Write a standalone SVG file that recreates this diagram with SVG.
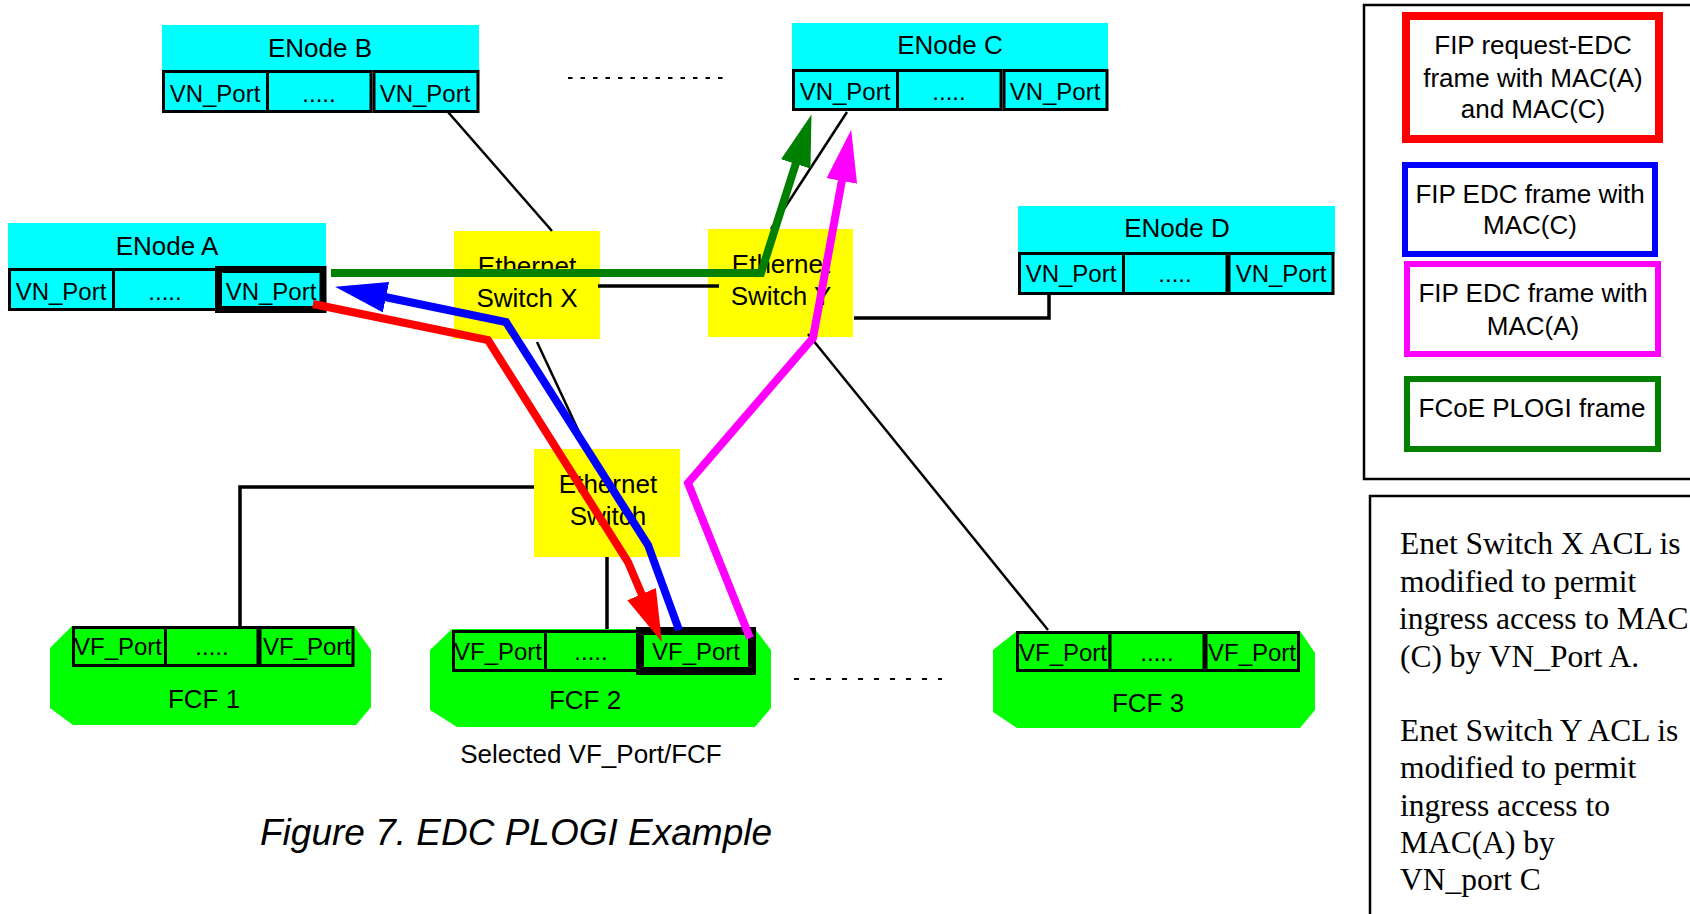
<svg xmlns="http://www.w3.org/2000/svg" width="1690" height="914" viewBox="0 0 1690 914">
  <style>
    .hdr { fill: #00ffff; }
    .cell { fill: #00ffff; stroke: #000; stroke-width: 3; }
    .sel { stroke-width: 7; }
    .fcf { fill: #00ff00; }
    .fcell { fill: #00ff00; stroke: #000; stroke-width: 3; }
    .fsel { stroke-width: 8; }
    .sw { fill: #ffff00; }
    .t { font-family: "Liberation Sans", Arial, sans-serif; font-size: 24px; fill: #000; text-anchor: middle; }
    .big { font-size: 26px; }
    .wire { fill: none; stroke: #000; stroke-width: 3.5; }
    .thin { stroke-width: 2.5; }
    .dash { fill: none; stroke: #000; stroke-width: 2; }
    .frame { fill: none; stroke-width: 8; stroke-linejoin: miter; stroke-linecap: butt; }
    .key { fill: #fff; }
    .note { font-family: "Liberation Serif", "Times New Roman", serif; font-size: 31.5px; fill: #000; }
  </style>
  <defs>
    <marker id="ah-green" markerUnits="userSpaceOnUse" viewBox="0 0 52 31" markerWidth="52" markerHeight="31" refX="1" refY="15.5" orient="auto">
      <path d="M0,0 L52,15.5 L0,31 z" fill="#008000"/>
    </marker>
    <marker id="ah-blue" markerUnits="userSpaceOnUse" viewBox="0 0 52 31" markerWidth="52" markerHeight="31" refX="1" refY="15.5" orient="auto">
      <path d="M0,0 L52,15.5 L0,31 z" fill="#0000ff"/>
    </marker>
    <marker id="ah-red" markerUnits="userSpaceOnUse" viewBox="0 0 52 31" markerWidth="52" markerHeight="31" refX="1" refY="15.5" orient="auto">
      <path d="M0,0 L52,15.5 L0,31 z" fill="#ff0000"/>
    </marker>
    <marker id="ah-magenta" markerUnits="userSpaceOnUse" viewBox="0 0 52 31" markerWidth="52" markerHeight="31" refX="1" refY="15.5" orient="auto">
      <path d="M0,0 L52,15.5 L0,31 z" fill="#ff00ff"/>
    </marker>
  </defs>

  <rect x="0" y="0" width="1690" height="914" fill="#fff"/>

  <!-- ENode B -->
  <g id="enode-b">
    <rect class="hdr" x="162" y="25" width="317" height="47"/>
    <rect class="cell" x="163.5" y="71.5" width="104" height="40"/>
    <rect class="cell" x="267.5" y="71.5" width="103.5" height="40"/>
    <rect class="cell" x="374" y="71.5" width="104" height="40"/>
    <text class="t big" x="320" y="57">ENode B</text>
    <text class="t" x="215" y="102">VN_Port</text>
    <text class="t" x="319" y="102">.....</text>
    <text class="t" x="425" y="102">VN_Port</text>
  </g>

  <!-- ENode C -->
  <g id="enode-c">
    <rect class="hdr" x="792" y="23" width="316" height="48"/>
    <rect class="cell" x="793.5" y="70.5" width="104" height="39"/>
    <rect class="cell" x="897.5" y="70.5" width="103.5" height="39"/>
    <rect class="cell" x="1004" y="70.5" width="103" height="39"/>
    <text class="t big" x="950" y="54">ENode C</text>
    <text class="t" x="845" y="100">VN_Port</text>
    <text class="t" x="949" y="100">.....</text>
    <text class="t" x="1055" y="100">VN_Port</text>
  </g>

  <!-- ENode A, with its selected VN_Port -->
  <g id="enode-a">
    <rect class="hdr" x="8" y="223" width="318" height="47"/>
    <rect class="cell" x="9.5" y="269.5" width="104" height="40"/>
    <rect class="cell" x="113.5" y="269.5" width="103" height="40"/>
    <rect class="cell sel" x="218.5" y="269.5" width="104.5" height="40"/>
    <text class="t big" x="167" y="255">ENode A</text>
    <text class="t" x="61" y="300">VN_Port</text>
    <text class="t" x="165" y="300">.....</text>
    <text class="t" x="271" y="300">VN_Port</text>
  </g>

  <!-- ENode D -->
  <g id="enode-d">
    <rect class="hdr" x="1018" y="206" width="317" height="48"/>
    <rect class="cell" x="1019.5" y="253.5" width="104" height="40"/>
    <rect class="cell" x="1123.5" y="253.5" width="103.5" height="40"/>
    <rect class="cell" x="1229" y="253.5" width="104" height="40"/>
    <text class="t big" x="1177" y="237">ENode D</text>
    <text class="t" x="1071" y="282">VN_Port</text>
    <text class="t" x="1175" y="282">.....</text>
    <text class="t" x="1281" y="282">VN_Port</text>
  </g>

  <!-- Ethernet switches -->
  <g id="switch-x">
    <rect class="sw" x="454" y="231" width="146" height="108"/>
    <text class="t big" x="527" y="275">Ethernet</text>
    <text class="t big" x="527" y="307">Switch X</text>
  </g>
  <g id="switch-y">
    <rect class="sw" x="708" y="229" width="145" height="108"/>
    <text class="t big" x="781" y="273">Ethernet</text>
    <text class="t big" x="781" y="305">Switch Y</text>
  </g>
  <g id="switch-mid">
    <rect class="sw" x="534" y="449" width="146" height="108"/>
    <text class="t big" x="608" y="493">Ethernet</text>
    <text class="t big" x="608" y="525">Switch</text>
  </g>

  <!-- FCFs -->
  <g id="fcf-1">
    <polygon class="fcf" points="72,626 354,626 371,650 371,707 356,725 73,725 50,708 50,648"/>
    <rect class="fcell" x="73.5" y="627.5" width="92" height="38"/>
    <rect class="fcell" x="165.5" y="627.5" width="92.5" height="38"/>
    <rect class="fcell" x="260" y="627.5" width="93" height="38"/>
    <text class="t" x="118" y="655">VF_Port</text>
    <text class="t" x="212" y="655">.....</text>
    <text class="t" x="307" y="655">VF_Port</text>
    <text class="t big" x="204" y="708">FCF 1</text>
  </g>
  <g id="fcf-2">
    <polygon class="fcf" points="452,629 755,629 771,650 771,708 755,727 457,727 430,710 430,650"/>
    <rect class="fcell" x="453.5" y="631.5" width="92" height="39"/>
    <rect class="fcell" x="545.5" y="631.5" width="94" height="39"/>
    <rect class="fcell fsel" x="640" y="631" width="112" height="40"/>
    <text class="t" x="498" y="660">VF_Port</text>
    <text class="t" x="591" y="660">.....</text>
    <text class="t" x="696" y="660">VF_Port</text>
    <text class="t big" x="585" y="709">FCF 2</text>
  </g>
  <g id="fcf-3">
    <polygon class="fcf" points="1017,631 1300,631 1315,653 1315,710 1300,728 1017,728 993,712 993,650"/>
    <rect class="fcell" x="1017.5" y="632.5" width="92.5" height="38"/>
    <rect class="fcell" x="1110" y="632.5" width="94" height="38"/>
    <rect class="fcell" x="1206" y="632.5" width="92.5" height="38"/>
    <text class="t" x="1063" y="661">VF_Port</text>
    <text class="t" x="1157" y="661">.....</text>
    <text class="t" x="1252" y="661">VF_Port</text>
    <text class="t big" x="1148" y="712">FCF 3</text>
  </g>

  <!-- Ethernet links and frame paths -->
  <g id="connectors">
    <line class="wire thin" x1="448" y1="112" x2="552" y2="231"/>
    <line class="wire thin" x1="847" y1="112" x2="771" y2="229"/>
    <line class="wire" x1="598" y1="286" x2="719" y2="286"/>
    <polyline class="wire" points="854,318 1049,318 1049,293"/>
    <line class="wire thin" x1="537" y1="342" x2="587" y2="449"/>
    <polyline class="wire" points="534,487 240,487 240,626"/>
    <line class="wire" x1="607" y1="557" x2="607" y2="629"/>
    <line class="wire thin" x1="808" y1="334" x2="1048" y2="630"/>
    <line class="dash" x1="568" y1="78" x2="723" y2="78" stroke-dasharray="4.5 8"/>
    <line class="dash" x1="794" y1="679" x2="942" y2="679" stroke-dasharray="5 11"/>

    <path class="frame" stroke="#008000" d="M331,273 L761,273 L796,163" marker-end="url(#ah-green)"/>
    <path class="frame" stroke="#0000ff" d="M679,630 L648,545 L506,322 L385,297" marker-end="url(#ah-blue)"/>
    <path class="frame" stroke="#ff0000" d="M313,304 L488,340 L628,562 L642,595" marker-end="url(#ah-red)"/>
    <path class="frame" stroke="#ff00ff" d="M750,638 L688,483 L813,338 L842,180" marker-end="url(#ah-magenta)"/>
  </g>

  <!-- Legend -->
  <g id="legend">
    <rect x="1364" y="5" width="400" height="474" fill="none" stroke="#000" stroke-width="2.5"/>
    <rect class="key" x="1406" y="16" width="253" height="123" stroke="#ff0000" stroke-width="8"/>
    <text class="t big" x="1533" y="54">FIP request-EDC</text>
    <text class="t big" x="1533" y="87">frame with MAC(A)</text>
    <text class="t big" x="1533" y="118">and MAC(C)</text>
    <rect class="key" x="1405" y="165" width="250" height="89" stroke="#0000ff" stroke-width="6"/>
    <text class="t big" x="1530" y="203">FIP EDC frame with</text>
    <text class="t big" x="1530" y="234">MAC(C)</text>
    <rect class="key" x="1407" y="264" width="251" height="90" stroke="#ff00ff" stroke-width="6"/>
    <text class="t big" x="1533" y="302">FIP EDC frame with</text>
    <text class="t big" x="1533" y="335">MAC(A)</text>
    <rect class="key" x="1407" y="379" width="251" height="70" stroke="#008000" stroke-width="6"/>
    <text class="t big" x="1532" y="417">FCoE PLOGI frame</text>
  </g>

  <!-- ACL notes -->
  <g id="notes">
    <rect x="1370" y="496" width="400" height="500" fill="none" stroke="#000" stroke-width="2.5"/>
    <text class="note" x="1400" y="554">Enet Switch X ACL is</text>
    <text class="note" x="1400" y="591.5">modified to permit</text>
    <text class="note" x="1399" y="629">ingress access to MAC</text>
    <text class="note" x="1400" y="666.5">(C) by VN_Port A.</text>
    <text class="note" x="1400" y="741">Enet Switch Y ACL is</text>
    <text class="note" x="1400" y="778">modified to permit</text>
    <text class="note" x="1400" y="815.5">ingress access to</text>
    <text class="note" x="1400" y="853">MAC(A) by</text>
    <text class="note" x="1400" y="890">VN_port C</text>
  </g>

  <!-- Captions -->
  <g id="captions">
    <text class="t big" x="591" y="763">Selected VF_Port/FCF</text>
    <text class="t" x="260" y="845" style="font-size:37px;font-style:italic;text-anchor:start">Figure 7. EDC PLOGI Example</text>
  </g>
</svg>
